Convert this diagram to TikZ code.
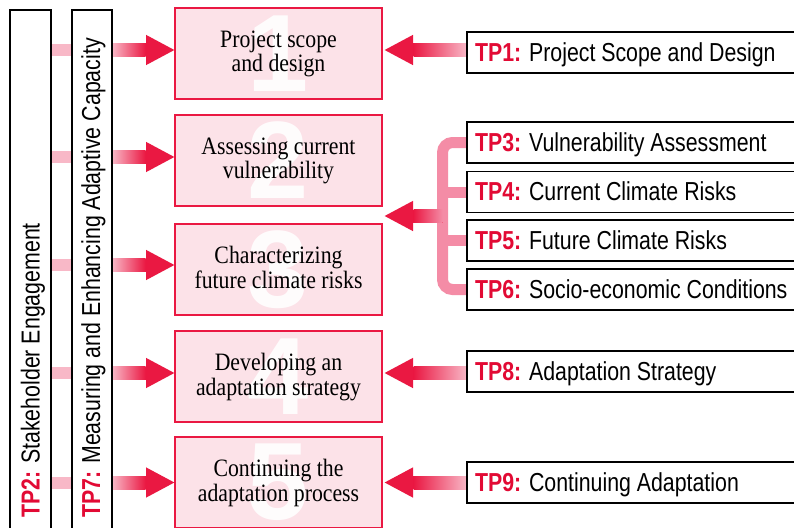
\documentclass[tikz,border=0pt]{standalone}
\usepackage{fontspec}
\usetikzlibrary{arrows.meta,calc,backgrounds}
\newfontfamily\condf[FakeStretch=0.82]{Liberation Sans}
\newfontfamily\serifc[FakeStretch=0.87]{Liberation Serif}
\newfontfamily\numf{Liberation Sans}
\definecolor{crim}{RGB}{234,24,66}
\definecolor{tpred}{RGB}{226,10,52}
\definecolor{boxfill}{RGB}{252,226,232}
\definecolor{pinkL}{RGB}{248,184,199}
\definecolor{pinkM}{RGB}{244,140,166}
\newcommand\tplabel[1]{\textcolor{tpred}{\bfseries #1}}
\newcommand\tpline[1]{\makebox[324pt][l]{#1}}
\begin{document}
\begin{tikzpicture}[x=1pt,y=-1pt,
  mainbox/.style={draw=crim, line width=2pt, fill=boxfill, minimum width=207pt,
    minimum height=91pt, inner sep=0pt, outer sep=0pt},
  bignum/.style={text=white, text opacity=0.9, inner sep=0pt,
    font=\numf\bfseries\fontsize{110}{110}\selectfont},
  boxtext/.style={align=center, inner sep=0pt, yshift=-1pt,
    font=\serifc\fontsize{25}{22}\selectfont},
  tpbox/.style={draw=black, line width=1.6pt, fill=white, minimum height=41pt,
    inner xsep=8pt, inner ysep=0pt, outer sep=0pt,
    anchor=west, text height=20pt, text depth=3pt,
    font=\condf\fontsize{26}{30}\selectfont},
  sidebar/.style={draw=black, line width=1.6pt, fill=white, inner sep=0pt,
    outer sep=0pt, minimum height=540pt, anchor=north},
  sidetext/.style={rotate=90, anchor=base west, inner sep=0pt,
    font=\condf\fontsize{26}{30}\selectfont},
  arrowline/.style={line width=13pt, crim, -{Triangle[length=29pt,width=28pt]}},
  stub/.style={line width=12pt, pinkL},
  bracket/.style={line width=11pt, pinkM, rounded corners=10pt}
]
\useasboundingbox (0,0) rectangle (794,527);
\clip (0,0) rectangle (794,527);

% row levels
\coordinate (r1) at (0,50);
\coordinate (r2) at (0,157);
\coordinate (r3) at (0,265);
\coordinate (r4) at (0,373);
\coordinate (r5) at (0,482.5);
\coordinate (br) at (442.5,216);

% side bars
\node[sidebar, minimum width=41pt] (bar2) at (30.5,10) {};
\node[sidebar, minimum width=40pt] (bar7) at (92,10) {};
\node[sidetext] (t2) at (39.5,518) {\tplabel{TP2:} Stakeholder Engagement};
\node[sidetext] (t7) at (100,518) {\tplabel{TP7:} Measuring and Enhancing Adaptive Capacity};

% main step boxes
\node[mainbox] (b1) at (278.5,53.5) {};
\node[mainbox] (b2) at (278.5,160.5) {};
\node[mainbox] (b3) at (278.5,269.5) {};
\node[mainbox] (b4) at (278.5,376.5) {};
\node[mainbox] (b5) at (278.5,482.5) {};
\node[bignum] (n1) at (b1) {1};
\node[bignum] (n2) at (b2) {2};
\node[bignum] (n3) at (b3) {3};
\node[bignum] (n4) at (b4) {4};
\node[bignum] (n5) at (b5) {5};
\node[boxtext] (x1) at (b1) {\strut Project scope\\and design\strut};
\node[boxtext] (x2) at (b2) {\strut Assessing current\\vulnerability\strut};
\node[boxtext] (x3) at (b3) {\strut Characterizing\\future climate risks\strut};
\node[boxtext] (x4) at (b4) {\strut Developing an\\adaptation strategy\strut};
\node[boxtext] (x5) at (b5) {\strut Continuing the\\adaptation process\strut};

% TP boxes on the right
\node[tpbox] (tp1) at (467,52.5) {\tpline{\tplabel{TP1:} Project Scope and Design}};
\node[tpbox] (tp3) at (467,142.5) {\tpline{\tplabel{TP3:} Vulnerability Assessment}};
\node[tpbox] (tp4) at (467,192) {\tpline{\tplabel{TP4:} Current Climate Risks}};
\node[tpbox] (tp5) at (467,240.5) {\tpline{\tplabel{TP5:} Future Climate Risks}};
\node[tpbox] (tp6) at (467,289.5) {\tpline{\tplabel{TP6:} Socio-economic Conditions}};
\node[tpbox] (tp8) at (467,371.5) {\tpline{\tplabel{TP8:} Adaptation Strategy}};
\node[tpbox] (tp9) at (467,482.5) {\tpline{\tplabel{TP9:} Continuing Adaptation}};

\begin{scope}[on background layer]
  \fill[white] (0,0) rectangle (794,527);
  % stubs between the two side bars
  \foreach \r in {r1,r2,r3,r4,r5}
    \draw[stub] (bar2.east |- \r) -- (bar7.west |- \r);
  % arrows from side bar into step boxes
  \foreach \r/\b in {r1/b1,r2/b2,r3/b3,r4/b4,r5/b5}{
    \draw[arrowline] (bar7.east |- \r) -- (\b.west |- \r);
    \shade[left color=pinkL, right color=crim]
      ($(bar7.east |- \r)+(0,-6.5)$) rectangle ($(\b.west |- \r)+(-29.5,6.5)$);
  }
  % arrows from TP boxes into step boxes
  \foreach \r/\t/\b in {r1/tp1/b1,r4/tp8/b4,r5/tp9/b5}{
    \draw[arrowline] (\t.west |- \r) -- ([xshift=2pt]\b.east |- \r);
    \shade[left color=crim, right color=pinkL]
      ($([xshift=2pt]\b.east |- \r)+(29.5,-6.5)$) rectangle ($(\t.west |- \r)+(0,6.5)$);
  }
  % bracket joining TP3-TP6
  \draw[bracket] (tp3.west) -| (br) |- (tp6.west);
  \draw[bracket] (br |- tp4.west) -- (tp4.west);
  \draw[bracket] (br |- tp5.west) -- (tp5.west);
  \draw[arrowline] (br) -- ([xshift=2pt]b2.east |- br);
  \shade[left color=crim, right color=pinkM]
    ($([xshift=2pt]b2.east |- br)+(29.5,-6.5)$) rectangle ($(br)+(0,6.5)$);
\end{scope}
\end{tikzpicture}
\end{document}
